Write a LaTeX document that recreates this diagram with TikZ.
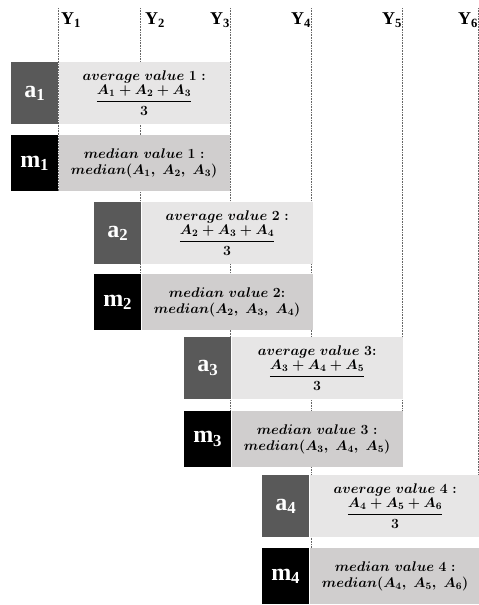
\RequirePackage{fix-cm}
\documentclass[tikz,border=0pt]{standalone}
\usepackage{amsmath}
\usepackage{fontspec}
\newfontfamily\labelfont{Liberation Serif}
\usetikzlibrary{positioning}

\definecolor{keygrey}{HTML}{595959}
\definecolor{avgfill}{HTML}{E7E6E6}
\definecolor{medfill}{HTML}{D0CECE}

\tikzset{
  yline/.style={densely dotted, black!60, line width=0.6pt},
  ylabel/.style={inner sep=0pt, font=\fontsize{18}{18}\selectfont\labelfont\bfseries},
  akey/.style={anchor=north west, fill=keygrey, text=white, inner sep=0pt,
    minimum width=47pt, minimum height=62pt, font=\fontsize{24}{24}\selectfont\labelfont\bfseries},
  mkey/.style={akey, fill=black, minimum height=56pt},
  avgbox/.style={fill=avgfill, inner sep=0pt, align=center,
    minimum width=171pt, minimum height=62pt, font=\fontsize{14}{16}\selectfont\boldmath},
  medbox/.style={avgbox, fill=medfill, minimum height=56pt}
}

\begin{document}
\begin{tikzpicture}[x=1pt,y=-1pt]
    \useasboundingbox (0,0) rectangle (479,605);

    % year lines
    \draw[yline] (58,8) coordinate (y1) -- (58,191);
    \draw[yline] (140,8) coordinate (y2) -- (140,329);
    \draw[yline] (230,8) coordinate (y3) -- (230,466);
    \draw[yline] (311,8) coordinate (y4) -- (311,604);
    \draw[yline] (402,8) coordinate (y5) -- (402,466);
    \draw[yline] (478,8) coordinate (y6) -- (478,475);

    \node[ylabel, anchor=west] (l1) at ([xshift=3pt,yshift=-12pt]y1) {$\text{Y}_{\text{1}}$};
    \node[ylabel, anchor=west] (l2) at ([xshift=5pt,yshift=-12pt]y2) {$\text{Y}_{\text{2}}$};
    \node[ylabel, anchor=east] (l3) at ([yshift=-12pt]y3) {$\text{Y}_{\text{3}}$};
    \node[ylabel, anchor=east] (l4) at ([yshift=-12pt]y4) {$\text{Y}_{\text{4}}$};
    \node[ylabel, anchor=east] (l5) at ([yshift=-12pt]y5) {$\text{Y}_{\text{5}}$};
    \node[ylabel, anchor=east] (l6) at ([yshift=-12pt]y6) {$\text{Y}_{\text{6}}$};

    % window 1
    \node[akey] (a1) at (11,62) {$\text{a}_{\text{1}}$};
    \node[avgbox, right=0pt of a1] (v1) {$average\ value\ 1:$\\[1pt] $\dfrac{A_1+A_2+A_3}{3}$};
    \node[mkey] (m1) at (11,135) {$\text{m}_{\text{1}}$};
    \node[medbox, right=0pt of m1] (d1) {$median\ value\ 1:$\\ $median(A_1,\ A_2,\ A_3)$};

    % window 2
    \node[akey] (a2) at (94,202) {$\text{a}_{\text{2}}$};
    \node[avgbox, right=0pt of a2] (v2) {$average\ value\ 2:$\\[1pt] $\dfrac{A_2+A_3+A_4}{3}$};
    \node[mkey] (m2) at (94,274) {$\text{m}_{\text{2}}$};
    \node[medbox, right=0pt of m2] (d2) {$median\ value\ 2{:}$\\ $median(A_2,\ A_3,\ A_4)$};

    % window 3
    \node[akey] (a3) at (184,337) {$\text{a}_{\text{3}}$};
    \node[avgbox, right=0pt of a3] (v3) {$average\ value\ 3{:}$\\[1pt] $\dfrac{A_3+A_4+A_5}{3}$};
    \node[mkey] (m3) at (184,411) {$\text{m}_{\text{3}}$};
    \node[medbox, right=0pt of m3] (d3) {$median\ value\ 3:$\\ $median(A_3,\ A_4,\ A_5)$};

    % window 4
    \node[akey] (a4) at (262,475) {$\text{a}_{\text{4}}$};
    \node[avgbox, right=0pt of a4] (v4) {$average\ value\ 4:$\\[1pt] $\dfrac{A_4+A_5+A_6}{3}$};
    \node[mkey] (m4) at (262,548) {$\text{m}_{\text{4}}$};
    \node[medbox, right=0pt of m4] (d4) {$median\ value\ 4:$\\ $median(A_4,\ A_5,\ A_6)$};

\end{tikzpicture}
\end{document}
